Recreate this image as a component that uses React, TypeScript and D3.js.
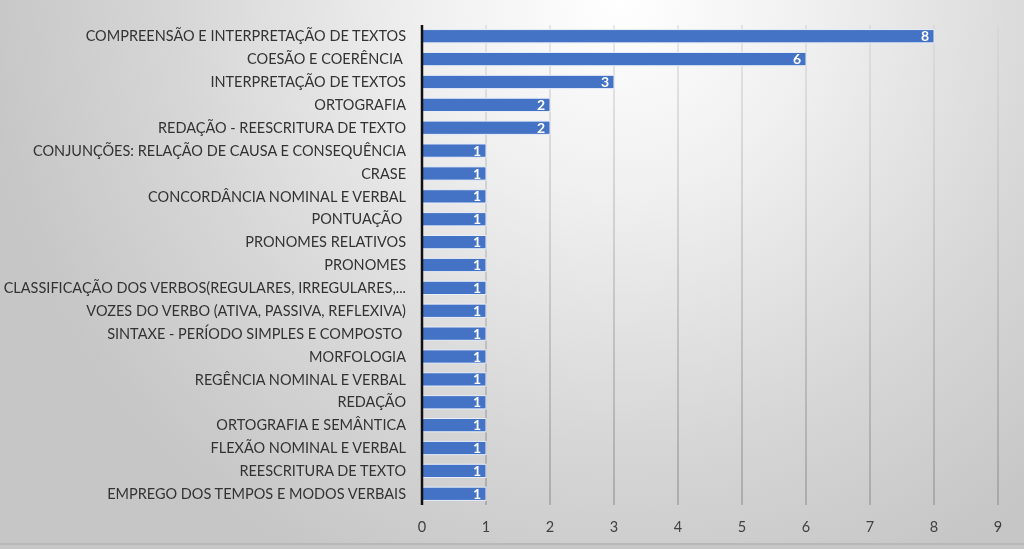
import React from "react";
import * as d3 from "d3";

const categories = [
  "COMPREENSÃO E INTERPRETAÇÃO DE TEXTOS",
  "COESÃO E COERÊNCIA ",
  "INTERPRETAÇÃO DE TEXTOS",
  "ORTOGRAFIA",
  "REDAÇÃO - REESCRITURA DE TEXTO",
  "CONJUNÇÕES: RELAÇÃO DE CAUSA E CONSEQUÊNCIA",
  "CRASE",
  "CONCORDÂNCIA NOMINAL E VERBAL",
  "PONTUAÇÃO ",
  "PRONOMES RELATIVOS",
  "PRONOMES",
  "CLASSIFICAÇÃO DOS VERBOS(REGULARES, IRREGULARES,...",
  "VOZES DO VERBO (ATIVA, PASSIVA, REFLEXIVA)",
  "SINTAXE - PERÍODO SIMPLES E COMPOSTO ",
  "MORFOLOGIA",
  "REGÊNCIA NOMINAL E VERBAL",
  "REDAÇÃO",
  "ORTOGRAFIA E SEMÂNTICA",
  "FLEXÃO NOMINAL E VERBAL",
  "REESCRITURA DE TEXTO",
  "EMPREGO DOS TEMPOS E MODOS VERBAIS",
];
const values = [8, 6, 3, 2, 2, 1, 1, 1, 1, 1, 1, 1, 1, 1, 1, 1, 1, 1, 1, 1, 1];
const xTicks = [0, 1, 2, 3, 4, 5, 6, 7, 8, 9];

const W = 1024;
const H = 549;
const FONT = "Lato, 'Open Sans', sans-serif";

export default function App() {
  const x = d3.scaleLinear().domain([0, 9]).range([422, 998]);
  const y = d3.scaleBand<string>().domain(categories).range([25, 505]).paddingInner(0.42).paddingOuter(0.2);

  return (
    <svg width={W} height={H} style={{ position: "fixed", left: 0, top: 0, display: "block" }}>
      <defs>
        <radialGradient id="bg" cx="620" cy="0" r="640" gradientUnits="userSpaceOnUse">
          <stop offset="0" stopColor="#ffffff" />
          <stop offset="0.3" stopColor="#f0f0f0" />
          <stop offset="0.7" stopColor="#d6d6d6" />
          <stop offset="1" stopColor="#c6c6c6" />
        </radialGradient>
        <linearGradient id="grid" x1="0" y1="25" x2="0" y2="505" gradientUnits="userSpaceOnUse">
          <stop offset="0" stopColor="#d2d2d2" />
          <stop offset="1" stopColor="#888888" />
        </linearGradient>
      </defs>
      <rect x={0} y={0} width={W} height={H} fill="url(#bg)" />
      <rect x={0} y={543} width={W} height={2} fill="#b8b8b8" />
      <rect x={0} y={545} width={W} height={4} fill="#c8c8c8" />

      {xTicks.slice(1).map((t) => (
        <line key={t} x1={x(t)} x2={x(t)} y1={25} y2={505} stroke="url(#grid)" strokeWidth={1} />
      ))}

      {categories.map((c, i) => (
        <g key={c}>
          <rect
            x={x(0)}
            y={y(c)!}
            width={x(values[i]) - x(0)}
            height={y.bandwidth()}
            fill="#4472C4"
            stroke="#e8eefa"
            strokeWidth={1}
          />
          <text
            x={x(values[i]) - 5}
            y={y(c)! + y.bandwidth() / 2}
            dy="0.36em"
            textAnchor="end"
            fill="#ffffff"
            fontWeight="bold"
            fontSize={14}
            fontFamily={FONT}
          >
            {values[i]}
          </text>
          <text
            x={406}
            y={y(c)! + y.bandwidth() / 2}
            dy="0.36em"
            textAnchor="end"
            fill="#333333"
            fontSize={14.5}
            fontFamily={FONT}
            style={{ whiteSpace: "pre" }}
          >
            {c}
          </text>
        </g>
      ))}

      <line x1={x(0)} x2={x(0)} y1={25} y2={505} stroke="#111" strokeWidth={2.5} />

      {xTicks.map((t) => (
        <text key={t} x={x(t)} y={527} dy="0.36em" textAnchor="middle" fill="#404040" fontSize={14.5} fontFamily={FONT}>
          {t}
        </text>
      ))}
    </svg>
  );
}
